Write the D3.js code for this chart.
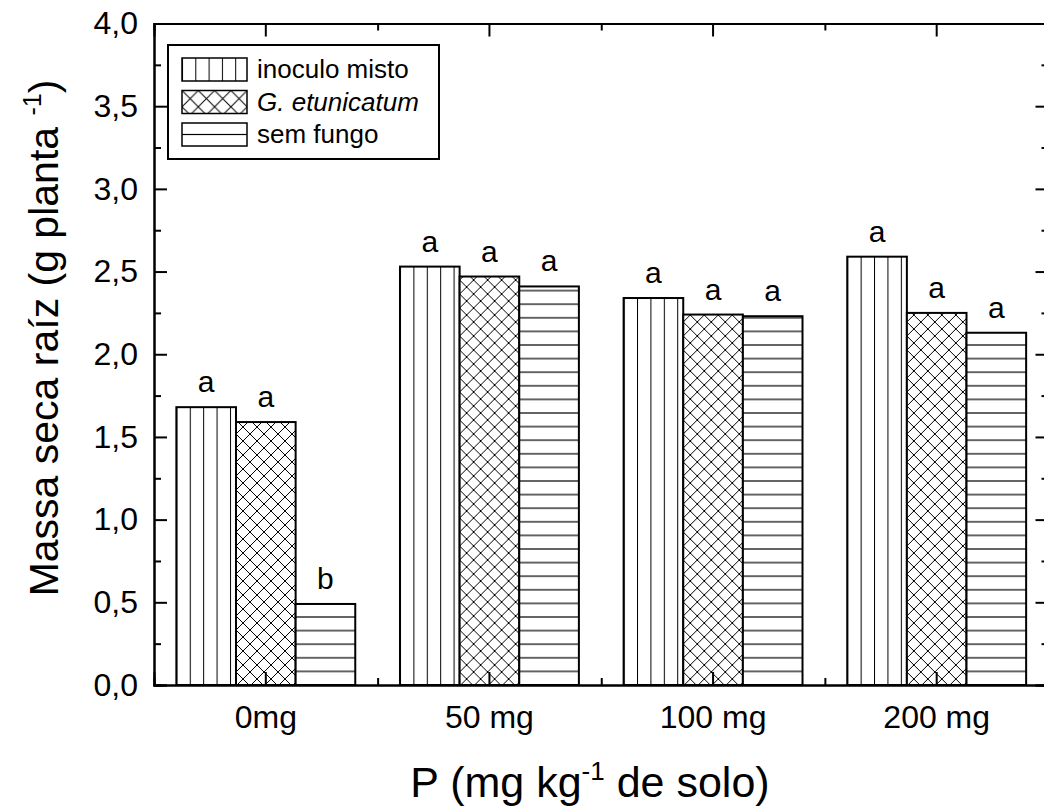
<!DOCTYPE html>
<html>
<head>
<meta charset="utf-8">
<script src="https://cdn.jsdelivr.net/npm/d3@7"></script>
<style>
  body { margin: 0; background: #fff; }
  svg { display: block; font-family: "Liberation Sans", Arial, sans-serif; }
</style>
</head>
<body>
<div class="chart"></div>
<script>
// data
const categories = ["0mg", "50 mg", "100 mg", "200 mg"];
const seriesNames = ["inoculo misto", "G. etunicatum", "sem fungo"];
const inoculoMisto = [1.68, 2.53, 2.34, 2.59];
const gEtunicatum = [1.59, 2.47, 2.24, 2.25];
const semFungo = [0.49, 2.41, 2.23, 2.13];
const lettersMisto = ["a", "a", "a", "a"];
const lettersEtun = ["a", "a", "a", "a"];
const lettersSem = ["b", "a", "a", "a"];
const yTicks = [0, 0.5, 1, 1.5, 2, 2.5, 3, 3.5, 4];
const yMinorTicks = [0.25, 0.75, 1.25, 1.75, 2.25, 2.75, 3.25, 3.75];

const W = 1044, H = 808;
const margin = { top: 23.5, right: -4.5, bottom: 123, left: 154 };
const width = W - margin.left - margin.right;
const height = H - margin.top - margin.bottom;

const svg = d3.select(".chart").append("svg")
    .attr("width", W)
    .attr("height", H);

const defs = svg.append("defs");

// hatch patterns; the line sits in the middle of its tile so it is not cut
function vertPattern(id, step) {
  let p = defs.append("pattern").attr("id", id)
      .attr("patternUnits", "userSpaceOnUse")
      .attr("width", step).attr("height", 10);
  p.append("line").attr("x1", 0.5).attr("x2", 0.5).attr("y1", 0).attr("y2", 10)
      .attr("stroke", "#000").attr("stroke-width", 1);
}
function horzPattern(id, step, y0) {
  let p = defs.append("pattern").attr("id", id)
      .attr("patternUnits", "userSpaceOnUse")
      .attr("y", y0)
      .attr("width", 10).attr("height", step);
  p.append("line").attr("x1", 0).attr("x2", 10).attr("y1", step / 2).attr("y2", step / 2)
      .attr("stroke", "#000").attr("stroke-width", 1.2);
}
function crossPattern(id, step) {
  let p = defs.append("pattern").attr("id", id)
      .attr("patternUnits", "userSpaceOnUse")
      .attr("width", step).attr("height", step);
  p.append("path").attr("d", `M0,0L${step},${step}M${step},0L0,${step}`)
      .attr("stroke", "#000").attr("stroke-width", 1).attr("fill", "none");
}

const x = d3.scaleBand()
    .domain(categories)
    .range([margin.left, margin.left + width])
    .padding(0);

const xSub = d3.scaleBand()
    .domain(seriesNames)
    .range([0, x.bandwidth() * 0.8])
    .padding(0);

const xIdx = d3.scaleLinear()
    .domain([-0.5, categories.length - 0.5])
    .range([margin.left, margin.left + width]);

const y = d3.scaleLinear()
    .domain([0, 4])
    .range([margin.top + height, margin.top]);

const hStep = 13.6;
vertPattern("pV", 13.4);
crossPattern("pX", 14);
horzPattern("pH", hStep, y(0) - hStep / 2);
vertPattern("lV", 13.3);
crossPattern("lX", 16.3);
horzPattern("lH", 23, 0);

const patterns = ["pV", "pX", "pH"];
const legendPatterns = ["lV", "lX", "lH"];

const series = [inoculoMisto, gEtunicatum, semFungo];
const letters = [lettersMisto, lettersEtun, lettersSem];

// bars
const groups = svg.append("g").attr("class", "bars")
  .selectAll("g")
  .data(categories)
  .enter().append("g");

groups.each(function(cat, ci) {
  let g = d3.select(this);
  let gx0 = x(cat) + x.bandwidth() * 0.1;
  seriesNames.forEach((s, si) => {
    let v = series[si][ci];
    let bx = gx0 + xSub(s);
    // translate so the pattern tile starts at the bar's left edge
    let bar = g.append("g").attr("transform", `translate(${bx},0)`);
    let yTop = y(v), yBot = y(0);
    bar.append("rect")
        .attr("x", 0)
        .attr("y", yTop)
        .attr("width", xSub.bandwidth())
        .attr("height", yBot - yTop)
        .attr("fill", "#fff");
    bar.append("rect")
        .attr("x", 0)
        .attr("y", yTop)
        .attr("width", xSub.bandwidth())
        .attr("height", yBot - yTop)
        .attr("fill", `url(#${patterns[si]})`)
        .attr("stroke", "#000")
        .attr("stroke-width", 2);
    g.append("text")
        .attr("x", bx + xSub.bandwidth() / 2)
        .attr("y", yTop - 15)
        .attr("text-anchor", "middle")
        .style("font-size", "30px")
        .text(letters[si][ci]);
  });
});

// axes, ticks pointing inside
const fmt = d => d3.format(".1f")(d).replace(".", ",");

svg.append("g")
    .attr("transform", `translate(${margin.left},0)`)
    .call(d3.axisLeft(y).tickValues(yTicks).tickSize(-13).tickPadding(16).tickFormat(fmt));
svg.append("g")
    .attr("transform", `translate(${margin.left},0)`)
    .call(d3.axisLeft(y).tickValues(yMinorTicks).tickSize(-7).tickFormat(""));
svg.append("g")
    .attr("transform", `translate(${margin.left + width},0)`)
    .call(d3.axisRight(y).tickValues(yTicks).tickSize(-13).tickFormat(""));
svg.append("g")
    .attr("transform", `translate(${margin.left + width},0)`)
    .call(d3.axisRight(y).tickValues(yMinorTicks).tickSize(-7).tickFormat(""));

svg.append("g")
    .attr("transform", `translate(0,${margin.top + height})`)
    .call(d3.axisBottom(x).tickSize(-13).tickPadding(20));
svg.append("g")
    .attr("transform", `translate(0,${margin.top + height})`)
    .call(d3.axisBottom(xIdx).tickValues([0.5, 1.5, 2.5]).tickSize(-7).tickFormat(""));
svg.append("g")
    .attr("transform", `translate(0,${margin.top})`)
    .call(d3.axisTop(x).tickSize(-13).tickFormat(""));
svg.append("g")
    .attr("transform", `translate(0,${margin.top})`)
    .call(d3.axisTop(xIdx).tickValues([0.5, 1.5, 2.5]).tickSize(-7).tickFormat(""));

svg.selectAll(".domain").attr("stroke", "#000").attr("stroke-width", 2);
svg.selectAll(".tick line").attr("stroke", "#000").attr("stroke-width", 2);
svg.selectAll(".tick text")
    .attr("fill", "#000")
    .style("font-family", "'Liberation Sans', Arial, sans-serif")
    .style("font-size", "32px");

// axis titles
const yTitle = svg.append("text")
    .attr("transform", "translate(58,338) rotate(-90)")
    .attr("text-anchor", "middle")
    .style("font-size", "41px");
yTitle.append("tspan").text("Massa seca raíz (g planta ");
yTitle.append("tspan").attr("dy", -17).style("font-size", "25px").text("-1");
yTitle.append("tspan").attr("dy", 17).text(")");

const xTitle = svg.append("text")
    .attr("x", 590)
    .attr("y", 797)
    .attr("text-anchor", "middle")
    .style("font-size", "43px");
xTitle.append("tspan").text("P (mg kg");
xTitle.append("tspan").attr("dy", -17).style("font-size", "26px").text("-1");
xTitle.append("tspan").attr("dy", 17).text(" de solo)");

// legend
const legend = svg.append("g").attr("class", "legend");
legend.append("rect")
    .attr("x", 168).attr("y", 45)
    .attr("width", 271).attr("height", 114)
    .attr("fill", "#fff")
    .attr("stroke", "#000")
    .attr("stroke-width", 2);

seriesNames.forEach((s, i) => {
  let row = legend.append("g").attr("transform", `translate(182,${58 + i * 32.5})`);
  row.append("rect")
      .attr("width", 65).attr("height", 23)
      .attr("fill", `url(#${legendPatterns[i]})`)
      .attr("stroke", "#000")
      .attr("stroke-width", 1.5);
  row.append("text")
      .attr("x", 75)
      .attr("y", 20)
      .style("font-size", "26px")
      .style("font-style", i == 1 ? "italic" : "normal")
      .text(s);
});
</script>
</body>
</html>
